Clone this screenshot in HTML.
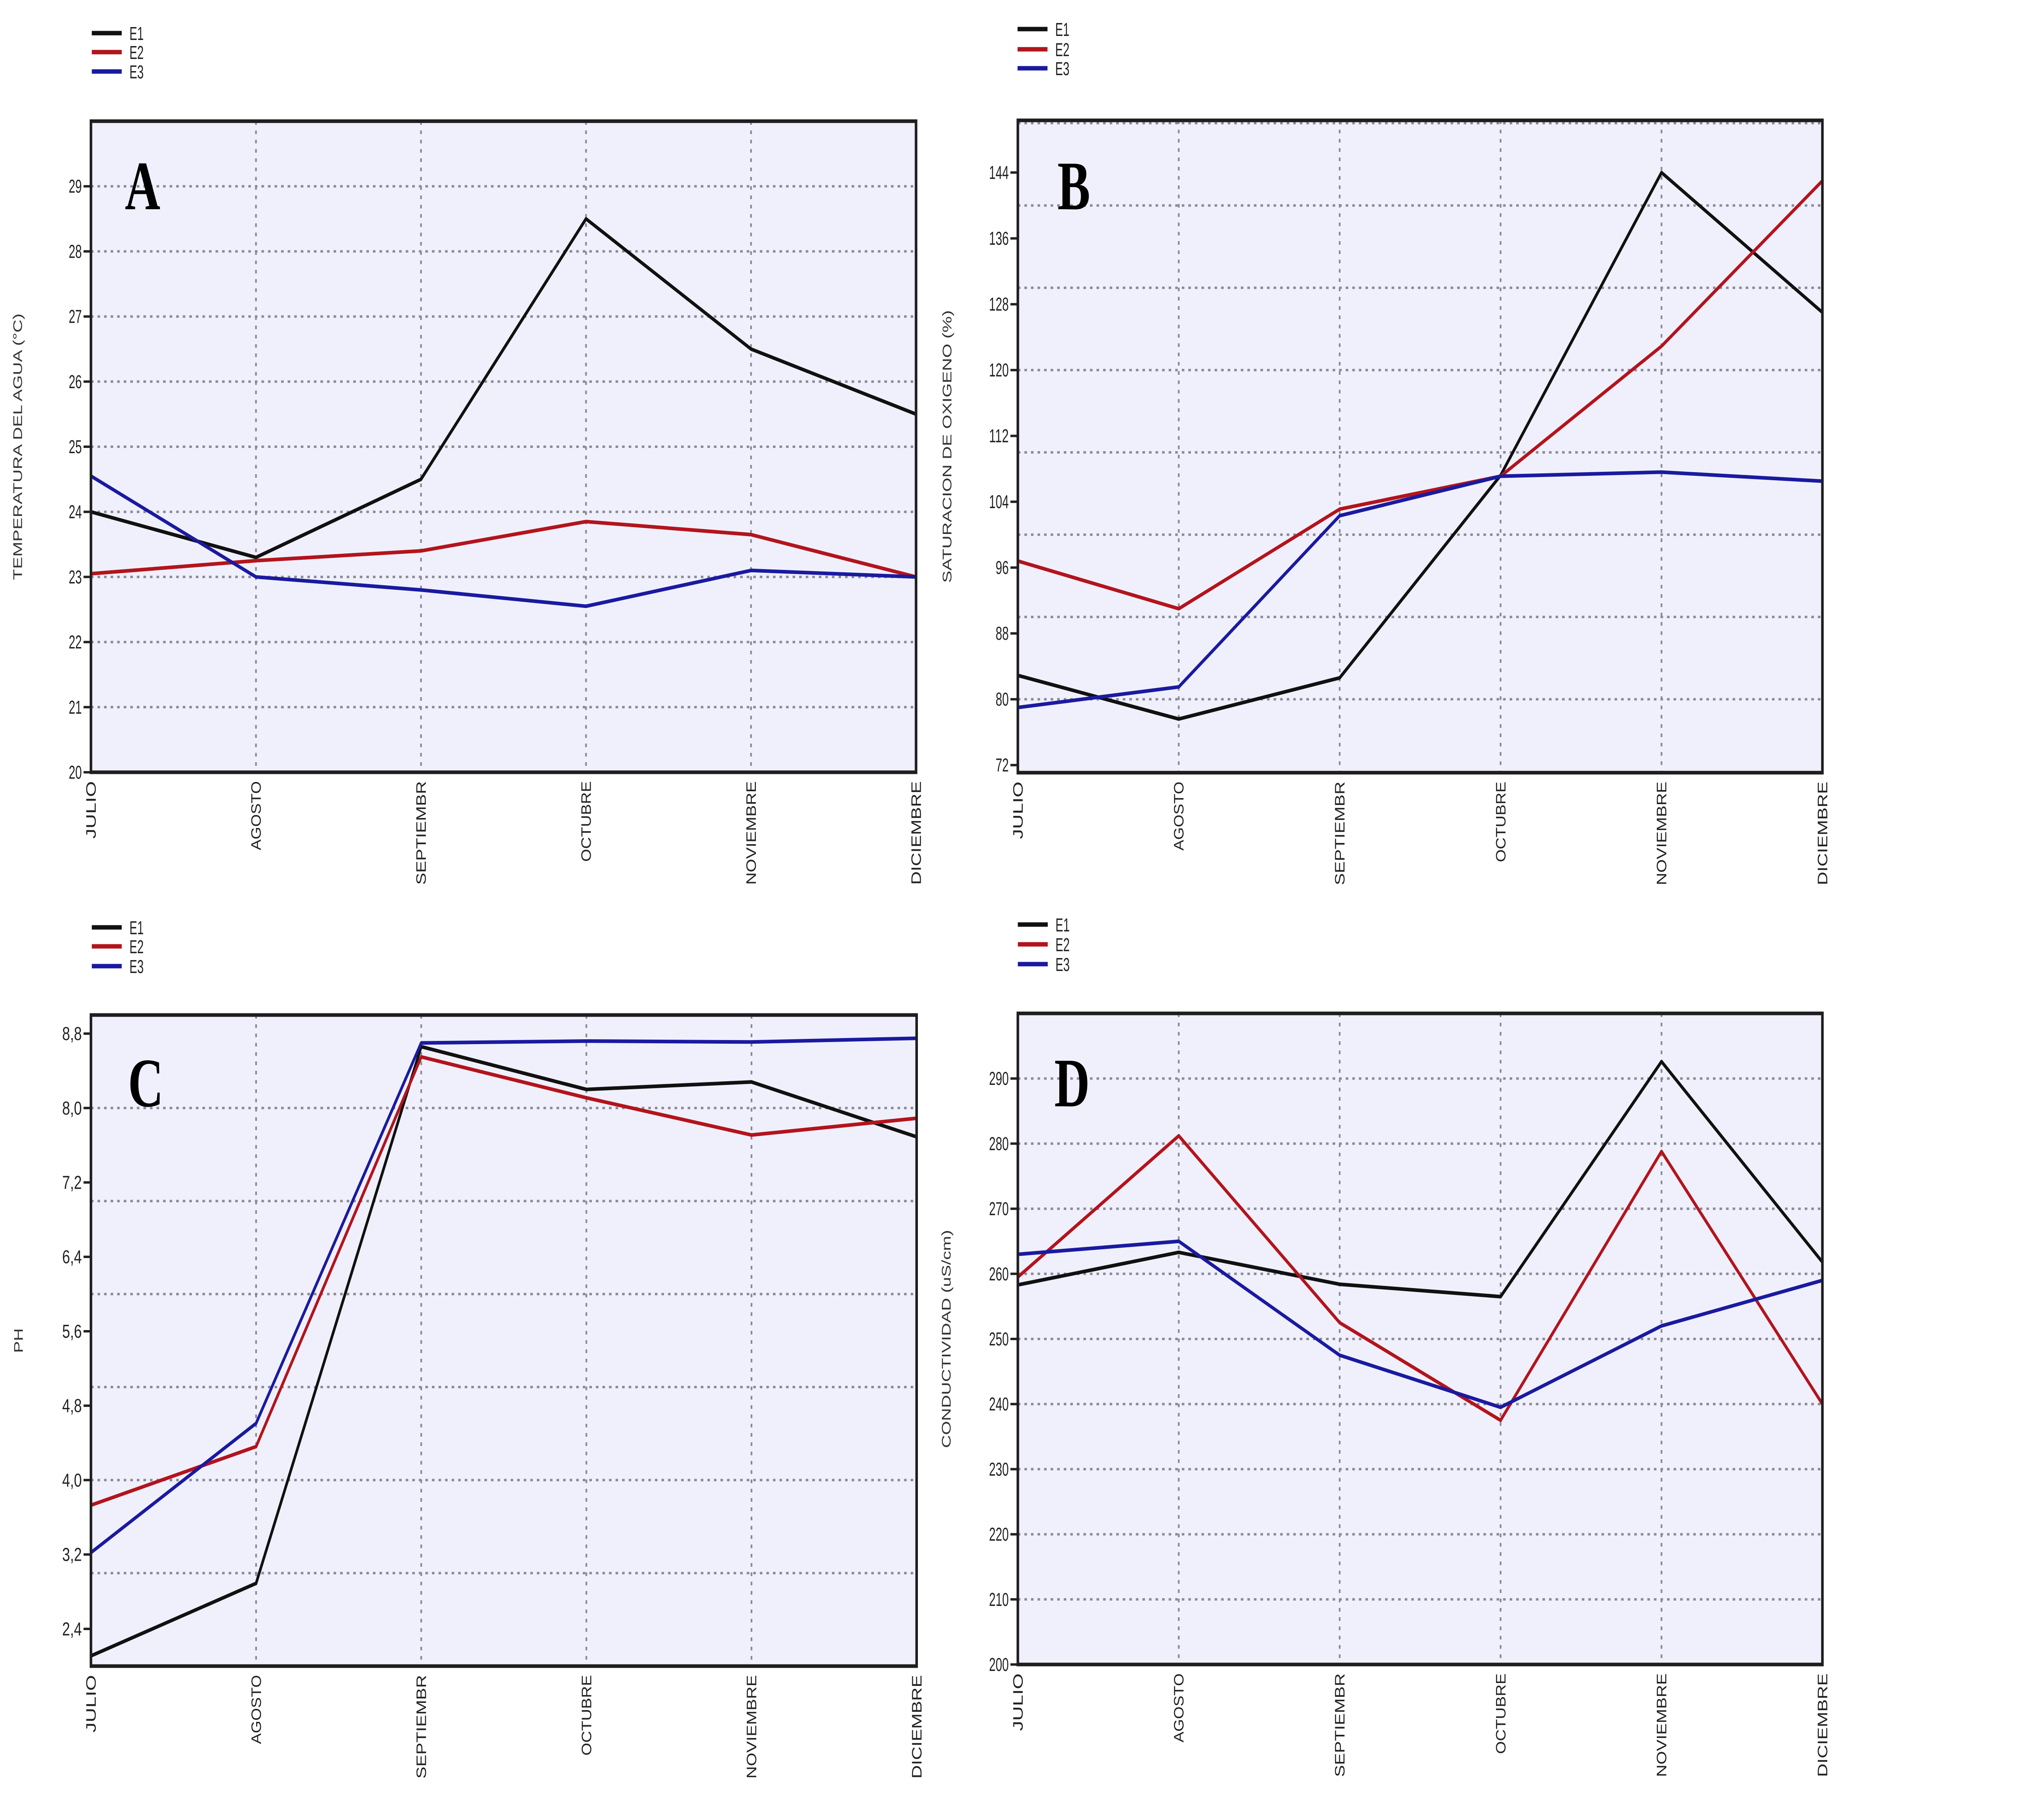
<!DOCTYPE html>
<html><head><meta charset="utf-8">
<style>
html,body{margin:0;padding:0;background:#fff;overflow:hidden;width:100vw;height:100vh;}
svg{display:block;width:100vw;height:100vh;}
text{font-family:"Liberation Sans",sans-serif;}
</style></head>
<body>
<svg id="fig" xmlns="http://www.w3.org/2000/svg" viewBox="0 0 7085 4506" preserveAspectRatio="none"></svg>
<script>
const months = ["JULIO","AGOSTO","SEPTIEMBR","OCTUBRE","NOVIEMBRE","DICIEMBRE"];
const seriesNames = ["E1","E2","E3"];
const tempE1 = [24.0,23.3,24.5,28.5,26.5,25.5];
const tempE2 = [23.05,23.25,23.4,23.85,23.65,23.0];
const tempE3 = [24.55,23.0,22.8,22.55,23.1,23.0];
const oxyE1 = [82.9,77.6,82.6,107.2,144.0,127.0];
const oxyE2 = [96.8,91.0,103.1,107.1,122.9,143.0];
const oxyE3 = [79.0,81.5,102.3,107.1,107.6,106.5];
const phE1 = [2.11,2.89,8.66,8.2,8.28,7.69];
const phE2 = [3.73,4.36,8.55,8.11,7.71,7.89];
const phE3 = [3.22,4.61,8.7,8.72,8.71,8.75];
const condE1 = [258.3,263.3,258.4,256.5,292.6,261.8];
const condE2 = [259.5,281.2,252.5,237.5,278.8,240.0];
const condE3 = [263.0,265.0,247.5,239.5,252.0,259.0];
const tempTicks = [20,21,22,23,24,25,26,27,28,29];
const tempTickLabels = ["20","21","22","23","24","25","26","27","28","29"];
const tempGrid = [21,22,23,24,25,26,27,28,29];
const oxyTicks = [72,80,88,96,104,112,120,128,136,144];
const oxyTickLabels = ["72","80","88","96","104","112","120","128","136","144"];
const oxyGrid = [80,90,100,110,120,130,140,150];
const phTicks = [2.4,3.2,4.0,4.8,5.6,6.4,7.2,8.0,8.8];
const phTickLabels = ["2,4","3,2","4,0","4,8","5,6","6,4","7,2","8,0","8,8"];
const phGrid = [3,4,5,6,7,8];
const condTicks = [200,210,220,230,240,250,260,270,280,290];
const condTickLabels = ["200","210","220","230","240","250","260","270","280","290"];
const condGrid = [210,220,230,240,250,260,270,280,290];

const NS="http://www.w3.org/2000/svg";
const svg=document.getElementById('fig');
const colors=["#111111","#b3141c","#1a1aa0"];
function mk(tag,parent){const e=document.createElementNS(NS,tag);parent.appendChild(e);return e;}

const panels=[
 {id:"a",letter:"A",x0:319,x1:3213,y0:300,y1:1912,min:20,max:30,ticks:tempTicks,labels:tempTickLabels,grid:tempGrid,
  series:[tempE1,tempE2,tempE3],title:"TEMPERATURA DEL AGUA (°C)",titleX:62,titleLen:660,legY:[82,129,177],legX:322,letX:438,letY:518},
 {id:"b",letter:"B",x0:3570,x1:6392,y0:298,y1:1913,min:71.08,max:150.34,ticks:oxyTicks,labels:oxyTickLabels,grid:oxyGrid,
  series:[oxyE1,oxyE2,oxyE3],title:"SATURACION DE OXIGENO (%)",titleX:3322,titleLen:675,legY:[72,122,169],legX:3569,letX:3709,letY:518},
 {id:"c",letter:"C",x0:319,x1:3215,y0:2513,y1:4125,min:2.0,max:9.0,ticks:phTicks,labels:phTickLabels,grid:phGrid,
  series:[phE1,phE2,phE3],title:"PH",titleX:65,titleLen:0,legY:[2296,2343,2392],legX:322,letX:449,letY:2739},
 {id:"d",letter:"D",x0:3570,x1:6392,y0:2509,y1:4121,min:200,max:300,ticks:condTicks,labels:condTickLabels,grid:condGrid,
  series:[condE1,condE2,condE3],title:"CONDUCTIVIDAD (uS/cm)",titleX:3319,titleLen:540,legY:[2289,2338,2387],legX:3570,letX:3698,letY:2739}
];

panels.forEach(p=>{
  const g=mk('g',svg);
  
  
  const xs=i=>p.x0+(p.x1-p.x0)*i/(months.length-1);
  const ys=v=>p.y1-(v-p.min)/(p.max-p.min)*(p.y1-p.y0);
  const bg=mk('rect',g);
  
  
  bg.setAttribute('x',p.x0);bg.setAttribute('y',p.y0);bg.setAttribute('width',p.x1-p.x0);bg.setAttribute('height',p.y1-p.y0);
  bg.setAttribute('fill','#f0f0fd');
  p.grid.forEach(v=>{
    const l=mk('line',g);
    
    
    l.setAttribute('x1',p.x0);l.setAttribute('x2',p.x1);l.setAttribute('y1',ys(v));l.setAttribute('y2',ys(v));
    l.setAttribute('stroke','#8a8a96');l.setAttribute('stroke-width','6');l.setAttribute('stroke-dasharray','9 14');
  });
  months.forEach((m,i)=>{
    if(i>0&&i<months.length-1){
      const l=mk('line',g);
      
      
      l.setAttribute('x1',xs(i));l.setAttribute('x2',xs(i));l.setAttribute('y1',p.y0);l.setAttribute('y2',p.y1);
      l.setAttribute('stroke','#8a8a96');l.setAttribute('stroke-width','6');l.setAttribute('stroke-dasharray','9 14');
    }
    const t=mk('text',g);
    
    
    const tx=xs(i), ty=p.y1+22;
    t.setAttribute('transform','translate('+(tx+17)+','+ty+') rotate(-90)');
    t.setAttribute('text-anchor','end');t.setAttribute('font-size','48');t.setAttribute('fill','#222');
    t.setAttribute('textLength',String(m.length*28.5));t.setAttribute('lengthAdjust','spacingAndGlyphs');
    t.textContent=m;
  });
  p.ticks.forEach((v,k)=>{
    const tk=mk('line',g);
    
    
    tk.setAttribute('x1',p.x0-26);tk.setAttribute('x2',p.x0);tk.setAttribute('y1',ys(v));tk.setAttribute('y2',ys(v));
    tk.setAttribute('stroke','#222');tk.setAttribute('stroke-width','6');
    const t=mk('text',g);
    
    
    t.setAttribute('x',p.x0-32);t.setAttribute('y',ys(v)+16);t.setAttribute('text-anchor','end');
    t.setAttribute('font-size','46');t.setAttribute('fill','#222');
    t.setAttribute('textLength',String(p.labels[k].length*23));t.setAttribute('lengthAdjust','spacingAndGlyphs');
    t.textContent=p.labels[k];
  });
  p.series.forEach((s,si)=>{
    const pl=mk('polyline',g);
    
    
    pl.setAttribute('points',s.map((v,i)=>xs(i)+','+ys(v)).join(' '));
    pl.setAttribute('fill','none');pl.setAttribute('stroke',colors[si]);pl.setAttribute('stroke-width','9');
    pl.setAttribute('stroke-linejoin','round');
  });
  const fr=mk('rect',g);
  
  
  fr.setAttribute('x',p.x0);fr.setAttribute('y',p.y0);fr.setAttribute('width',p.x1-p.x0);fr.setAttribute('height',p.y1-p.y0);
  fr.setAttribute('fill','none');fr.setAttribute('stroke','#1e1e1e');fr.setAttribute('stroke-width','9');
  const yt=mk('text',g);
  
  
  yt.setAttribute('transform','translate('+(p.titleX+15)+','+((p.y0+p.y1)/2)+') rotate(-90)');
  yt.setAttribute('text-anchor','middle');yt.setAttribute('font-size','44');yt.setAttribute('fill','#333');
  if(p.titleLen){yt.setAttribute('textLength',String(p.titleLen));yt.setAttribute('lengthAdjust','spacingAndGlyphs');}
  yt.textContent=p.title;
  const lg=mk('g',g);
  
  
  seriesNames.forEach((n,si)=>{
    const l=mk('line',lg);
    
    
    l.setAttribute('x1',p.legX);l.setAttribute('x2',p.legX+105);l.setAttribute('y1',p.legY[si]);l.setAttribute('y2',p.legY[si]);
    l.setAttribute('stroke',colors[si]);l.setAttribute('stroke-width','11');
    const t=mk('text',lg);
    
    
    t.setAttribute('x',p.legX+132);t.setAttribute('y',p.legY[si]+17);t.setAttribute('font-size','46');t.setAttribute('fill','#222');
    t.setAttribute('textLength','50');t.setAttribute('lengthAdjust','spacingAndGlyphs');
    t.textContent=n;
  });
  const L=mk('text',g);
  
  
  L.setAttribute('x',p.letX);L.setAttribute('y',p.letY);L.setAttribute('font-size','172');L.setAttribute('font-weight','bold');
  L.setAttribute('style','font-family:"Liberation Serif",serif');L.setAttribute('fill','#000');
  L.textContent=p.letter;
});
</script>
</body></html>
